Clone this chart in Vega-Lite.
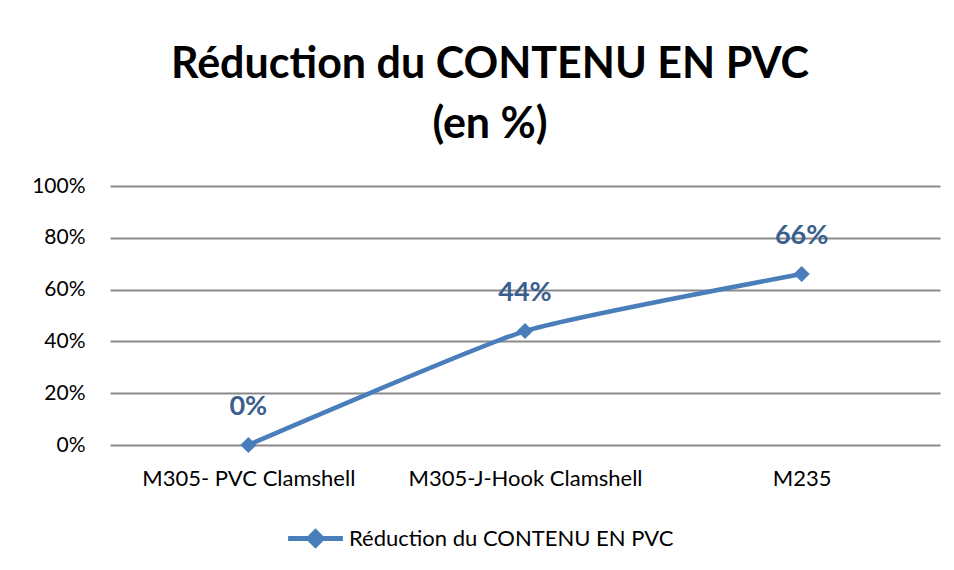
{
  "$schema": "https://vega.github.io/schema/vega-lite/v6.json",
  "width": 830,
  "height": 259,
  "autosize": "none",
  "padding": {"left": 110, "top": 186, "right": 14, "bottom": 125},
  "background": "white",
  "config": {
    "font": "Lato",
    "view": {"stroke": null}
  },
  "title": {
    "text": ["Réduction du CONTENU EN PVC", "(en %)"],
    "fontSize": 43,
    "fontWeight": "bold",
    "font": "Lato",
    "color": "#000000",
    "anchor": "middle",
    "dx": -35,
    "offset": 28,
    "lineHeight": 60
  },
  "data": {
    "values": [
      {"cat": "M305- PVC Clamshell", "value": 0, "label": "0%"},
      {"cat": "M305-J-Hook Clamshell", "value": 0.44, "label": "44%"},
      {"cat": "M235", "value": 0.66, "label": "66%"}
    ]
  },
  "encoding": {
    "x": {
      "field": "cat",
      "type": "nominal",
      "sort": null,
      "scale": {"type": "point", "padding": 0.5},
      "axis": {
        "title": null,
        "labelAngle": 0,
        "labelFontSize": 22,
        "labelLimit": 400,
        "labelColor": "#000000",
        "labelPadding": 23,
        "ticks": false,
        "domain": false
      }
    },
    "y": {
      "field": "value",
      "type": "quantitative",
      "scale": {"domain": [0, 1]},
      "axis": {
        "title": null,
        "values": [0, 0.2, 0.4, 0.6, 0.8, 1],
        "format": ".0%",
        "labelFontSize": 21,
        "labelColor": "#000000",
        "labelPadding": 25,
        "ticks": false,
        "domain": false,
        "grid": true,
        "gridColor": "#8a8a8a",
        "gridWidth": 1.8
      }
    }
  },
  "layer": [
    {
      "mark": {
        "type": "line",
        "interpolate": "cardinal",
        "tension": 0.5,
        "strokeWidth": 4.5,
        "point": {"filled": true, "shape": "diamond", "size": 260, "opacity": 1}
      },
      "encoding": {
        "color": {
          "datum": "Réduction du CONTENU  EN PVC",
          "scale": {"range": ["#4A7EBB"]},
          "legend": {
            "title": null,
            "orient": "none",
            "legendX": 178,
            "legendY": 325,
            "labelFontSize": 22,
            "labelLimit": 500,
            "labelColor": "#000000",
            "symbolType": "M-1,-0.09L-0.28,-0.09L0,-0.37L0.28,-0.09L1,-0.09L1,0.09L0.28,0.09L0,0.37L-0.28,0.09L-1,0.09Z",
            "symbolSize": 3000,
            "symbolFillColor": "#4A7EBB",
            "symbolStrokeWidth": 0,
            "labelOffset": 6
          }
        }
      }
    },
    {
      "mark": {
        "type": "text",
        "fontSize": 27,
        "fontWeight": "bold",
        "color": "#3A5F8F",
        "dy": -38
      },
      "encoding": {
        "text": {"field": "label"}
      }
    }
  ]
}
